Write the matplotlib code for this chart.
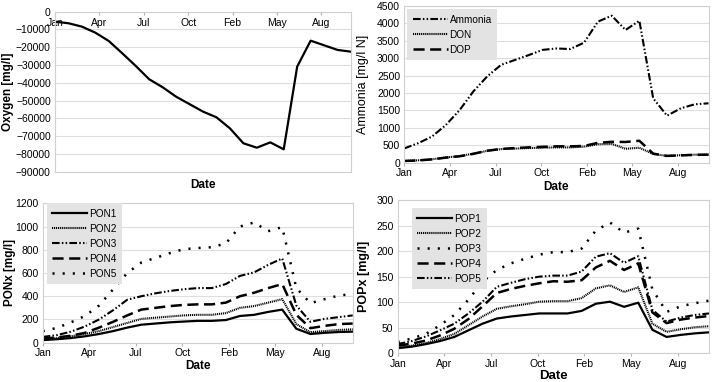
import numpy as np
import matplotlib
matplotlib.use("Agg")
import matplotlib.pyplot as plt

plt.rcParams['font.family'] = ['Liberation Sans', 'DejaVu Sans']
plt.rcParams['lines.scale_dashes'] = False

# data: one sample every 4 weeks (23 samples)
days = np.arange(23) * 28
tick_days = np.arange(7) * 92.4
tick_labels = ['Jan', 'Apr', 'Jul', 'Oct', 'Feb', 'May', 'Aug']

oxygen = [-5600, -6500, -8400, -11800, -16500, -23400, -30500, -38000, -42500, -47800,
          -52000, -56200, -59400, -65600, -74000, -76500, -73500, -77400, -30900, -16300,
          -18900, -21500, -22500]

ammonia = [410, 560, 750, 1080, 1510, 2050, 2480, 2810, 2950, 3090, 3240, 3280, 3265, 3446,
           4050, 4222, 3811, 4078, 1849, 1350, 1562, 1677, 1706]
don = [50, 68, 98, 150, 190, 260, 340, 390, 405, 420, 430, 440, 440, 460, 530, 540, 400,
       430, 250, 195, 215, 230, 235]
dop = [50, 65, 95, 145, 185, 255, 345, 395, 420, 440, 455, 470, 470, 480, 570, 600, 595,
       630, 260, 195, 210, 225, 230]

pon1 = [22, 30, 40, 55, 75, 100, 130, 155, 165, 175, 182, 188, 188, 195, 230, 240, 265,
        285, 120, 75, 85, 92, 95]
pon2 = [30, 40, 55, 75, 100, 135, 170, 205, 215, 225, 235, 240, 240, 255, 300, 315, 345,
        375, 160, 90, 100, 110, 115]
pon3 = [50, 65, 95, 140, 200, 280, 370, 400, 425, 445, 460, 470, 470, 505, 575, 605, 670,
        725, 320, 180, 205, 220, 235]
pon4 = [35, 45, 60, 85, 130, 180, 235, 285, 300, 315, 325, 330, 330, 345, 400, 430, 470,
        505, 240, 125, 145, 160, 165]
pon5 = [100, 127, 175, 230, 320, 460, 600, 690, 730, 770, 805, 815, 822, 855, 1000, 1035,
        960, 995, 470, 340, 375, 405, 420]

pop1 = [10, 13, 18, 24, 32, 45, 58, 68, 72, 75, 78, 78, 78, 83, 97, 101, 91, 99, 46, 32,
        36, 39, 41]
pop2 = [12, 15, 20, 28, 38, 55, 72, 87, 92, 96, 101, 102, 102, 108, 127, 133, 120, 129,
        58, 42, 47, 51, 53]
pop3 = [22, 29, 38, 55, 75, 105, 140, 163, 176, 185, 193, 198, 198, 205, 240, 256, 236,
        244, 125, 81, 92, 98, 103]
pop4 = [15, 19, 25, 35, 48, 67, 92, 118, 126, 132, 137, 141, 140, 143, 168, 181, 163, 176,
        80, 59, 66, 70, 73]
pop5 = [18, 24, 33, 45, 58, 78, 101, 130, 138, 145, 150, 152, 152, 160, 189, 196, 177,
        190, 85, 62, 70, 75, 78]

# line styles
solid = '-'
fine_dot = (0, (0.8, 0.6))
dash_dot_dot = (0, (5.5, 1.6, 1.1, 1.6, 1.1, 1.6))
long_dash = (0, (8, 4))
sparse_dot = (0, (1.5, 5.8))

grid_c = '#dedede'
spine_c = '#d0d0d0'
W, H = 713, 382

fig = plt.figure(figsize=(7.13, 3.82), dpi=100)


def make_axes(left, top, right, bottom):
    return fig.add_axes([left / W, 1 - bottom / H, (right - left) / W, (bottom - top) / H])


def style(ax, ylim, ystep, ylabel, label_x, bold=True, lab_size=8.5):
    ax.set_xlim(days[0], days[-1])
    ax.set_ylim(*ylim)
    ax.set_yticks(np.arange(ylim[0], ylim[1] + 1, ystep))
    ax.set_xticks(tick_days)
    ax.set_xticklabels(tick_labels)
    ax.grid(axis='y', color=grid_c, lw=0.8)
    ax.set_axisbelow(True)
    for s in ax.spines.values():
        s.set_color(spine_c)
        s.set_linewidth(0.8)
    ax.tick_params(axis='y', length=0, labelsize=7.5, pad=3)
    ax.tick_params(axis='x', length=2.5, color='#b0b0b0', labelsize=7.5, pad=1.5)
    ax.set_ylabel(ylabel, fontsize=lab_size, fontweight='bold' if bold else 'normal')
    ax.yaxis.set_label_coords(label_x, 0.5)


def legend(ax, anchor):
    leg = ax.legend(loc='upper left', bbox_to_anchor=anchor, borderaxespad=0,
                    frameon=True, fancybox=False, facecolor='#e3e3e3', edgecolor='none',
                    framealpha=1, fontsize=7.2, handlelength=3.5, handletextpad=0.2,
                    labelspacing=0.5, borderpad=0.55)
    return leg


# oxygen
ax1 = make_axes(55, 11.7, 351, 171.7)
ax1.plot(days, oxygen, color='black', lw=1.6, ls=solid)
style(ax1, (-90000, 0), 10000, 'Oxygen [mg/l]', -0.14)
ax1.xaxis.set_ticks_position('top')
ax1.tick_params(axis='x', direction='in', length=2.5, labeltop=True, labelbottom=False, pad=-11.4)
ax1.xaxis.set_label_position('bottom')
ax1.set_xlabel('Date', fontsize=8.5, fontweight='bold', labelpad=5)

# ammonia
ax2 = make_axes(404.3, 6, 708.5, 162.7)
ax2.plot(days, ammonia, color='black', lw=1.5, ls=dash_dot_dot, label='Ammonia')
ax2.plot(days, don, color='black', lw=1.5, ls=fine_dot, label='DON')
ax2.plot(days, dop, color='black', lw=1.8, ls=long_dash, label='DOP')
style(ax2, (0, 4500), 500, 'Ammonia [mg/l N]', -0.116, bold=False, lab_size=9)
ax2.set_xlabel('Date', fontsize=8.5, fontweight='bold', labelpad=2)
legend(ax2, (0.009, 0.979))

# PON
ax3 = make_axes(42.7, 203.3, 352.7, 342.7)
ax3.plot(days, pon1, color='black', lw=1.6, ls=solid, label='PON1')
ax3.plot(days, pon2, color='black', lw=1.5, ls=fine_dot, label='PON2')
ax3.plot(days, pon3, color='black', lw=1.5, ls=dash_dot_dot, label='PON3')
ax3.plot(days, pon4, color='black', lw=1.8, ls=long_dash, label='PON4')
ax3.plot(days, pon5, color='black', lw=1.8, ls=sparse_dot, label='PON5')
style(ax3, (0, 1200), 200, 'PONx [mg/l]', -0.086)
ax3.set_xlabel('Date', fontsize=8.5, fontweight='bold', labelpad=1)
legend(ax3, (0.013, 1.0))

# POP
ax4 = make_axes(397.7, 200, 709, 353.3)
ax4.plot(days, pop1, color='black', lw=1.6, ls=solid, label='POP1')
ax4.plot(days, pop2, color='black', lw=1.5, ls=fine_dot, label='POP2')
ax4.plot(days, pop3, color='black', lw=1.8, ls=sparse_dot, label='POP3')
ax4.plot(days, pop4, color='black', lw=1.8, ls=long_dash, label='POP4')
ax4.plot(days, pop5, color='black', lw=1.5, ls=dash_dot_dot, label='POP5')
style(ax4, (0, 300), 50, 'POPx [mg/l]', -0.09, lab_size=9)
ax4.set_xlabel('Date', fontsize=9.5, fontweight='bold', labelpad=1)
legend(ax4, (0.045, 0.946))

fig.savefig('out.png', dpi=100)
